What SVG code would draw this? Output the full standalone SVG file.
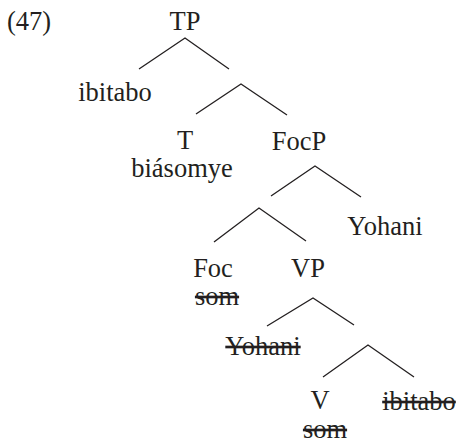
<svg xmlns="http://www.w3.org/2000/svg" width="460" height="443" viewBox="0 0 460 443">
<style>
text{font-family:"Liberation Serif","Times New Roman",serif;font-size:26.5px;fill:#231f20;text-anchor:middle}
.s{text-decoration:line-through}
.e{stroke:#231f20;stroke-width:1.3;fill:none}
</style>
<rect width="460" height="443" fill="#fff"/>
<text x="7" y="30" style="text-anchor:start">(47)</text>
<g id="n-TP"><text x="185" y="30">TP</text></g>
<g id="n-ibitabo"><text x="115" y="101">ibitabo</text></g>
<g id="n-T"><text x="185" y="149">T</text><text x="182" y="177">biásomye</text></g>
<g id="n-FocP"><text x="299" y="150">FocP</text></g>
<g id="n-Yohani"><text x="385" y="235">Yohani</text></g>
<g id="n-Foc"><text x="213" y="277">Foc</text><text class="s" x="217" y="305">som</text></g>
<g id="n-VP"><text x="308" y="277">VP</text></g>
<g id="n-Yohani2"><text class="s" x="263" y="355">Yohani</text></g>
<g id="n-V"><text x="320" y="409">V</text><text class="s" x="325" y="438">som</text></g>
<g id="n-ibitabo2"><text class="s" x="419" y="410">ibitabo</text></g>
<g id="edges" class="e">
<path class="e" d="M139,69L185,38L229,69"/>
<path class="e" d="M196,114L241,84L287,115"/>
<path class="e" d="M271,196L315,166L361,197"/>
<path class="e" d="M214,242L259,208L306,241"/>
<path class="e" d="M267,326L313,298L354,325"/>
<path class="e" d="M323,377L368,345L414,377"/>
</g>
</svg>
